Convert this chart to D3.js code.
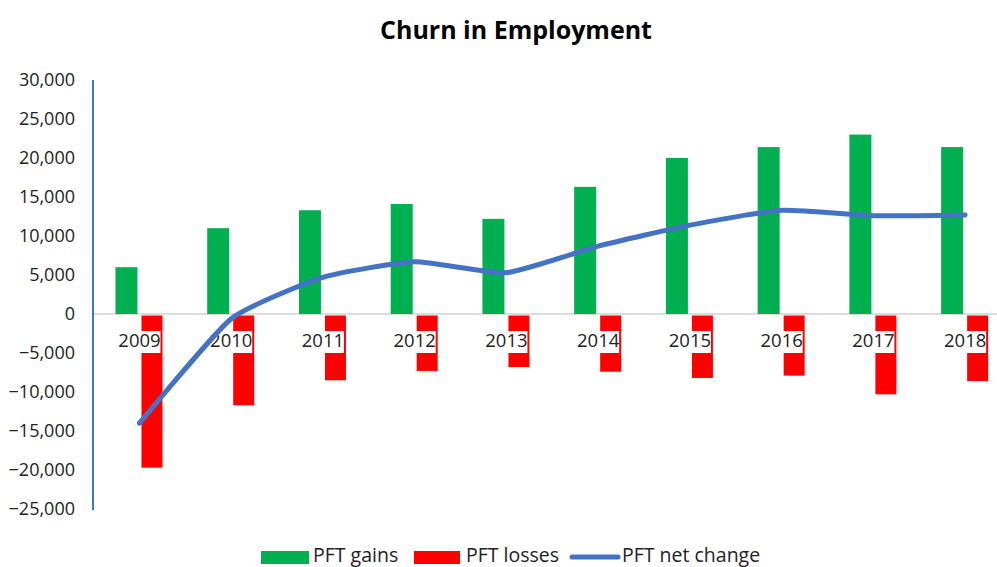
<!DOCTYPE html>
<html>
<head>
<meta charset="utf-8">
<script src="https://cdn.jsdelivr.net/npm/d3@7"></script>
<style>
  body { margin: 0; background: #fff; }
  text { font-family: "Open Sans", "Liberation Sans", sans-serif; }
</style>
</head>
<body>
<script>
// chart data
var years = ['2009','2010','2011','2012','2013','2014','2015','2016','2017','2018'];
var gains = [6000, 11000, 13300, 14100, 12200, 16300, 20000, 21400, 23000, 21400];
var losses = [-19700, -11700, -8500, -7300, -6800, -7400, -8200, -7900, -10300, -8600];
var netChange = [-14000, -600, 4700, 6700, 5300, 8700, 11400, 13300, 12600, 12700];
var yTicks = [30000, 25000, 20000, 15000, 10000, 5000, 0, -5000, -10000, -15000, -20000, -25000];

var width = 997;
var height = 567;

var svg = d3.select('body')
    .append('svg')
        .attr('width', width)
        .attr('height', height);

var xScale = d3.scaleBand()
    .domain(years)
    .range([93.6, 1011]);

var yScale = d3.scaleLinear()
    .domain([-25000, 30000])
    .range([509, 80]);

var barW = 22;
var gap = 2;

// title
svg.append('text')
    .attr('x', 516)
    .attr('y', 39)
    .attr('text-anchor', 'middle')
    .attr('font-size', 25)
    .attr('font-weight', 'bold')
    .attr('fill', '#000')
    .text('Churn in Employment');

// y axis labels
var yAxis = d3.axisLeft(yScale)
    .tickValues(yTicks)
    .tickSize(0)
    .tickPadding(18)
    .tickFormat(d3.format(','));

var yg = svg.append('g')
    .attr('class', 'y axis')
    .attr('transform', 'translate(93,0)')
    .call(yAxis);
yg.select('.domain').remove();
yg.selectAll('text')
    .attr('font-size', 18)
    .attr('fill', '#222')
    .style('font-family', '"Open Sans", "Liberation Sans", sans-serif');

// zero line
svg.append('line')
    .attr('x1', 93)
    .attr('x2', 1000)
    .attr('y1', yScale(0))
    .attr('y2', yScale(0))
    .attr('stroke', '#d0d0d0')
    .attr('stroke-width', 1.5);

// gain bars
svg.selectAll('.gain')
    .data(years)
    .enter().append('rect')
        .attr('class', 'gain')
        .attr('x', (d) => xScale(d) + xScale.bandwidth() / 2 - gap - barW)
        .attr('y', (d, i) => yScale(gains[i]))
        .attr('width', barW)
        .attr('height', (d, i) => yScale(0) - yScale(gains[i]))
        .attr('fill', '#00B050');

// loss bars
svg.selectAll('.loss')
    .data(years)
    .enter().append('rect')
        .attr('class', 'loss')
        .attr('x', (d) => xScale(d) + xScale.bandwidth() / 2 + gap)
        .attr('y', yScale(0) + 1.5)
        .attr('width', barW - 1)
        .attr('height', (d, i) => yScale(losses[i]) - yScale(0) - 1.5)
        .attr('fill', '#FF0000');

// category labels with white boxes
var labels = svg.selectAll('.xlab')
    .data(years)
    .enter().append('g')
        .attr('class', 'xlab')
        .attr('transform', (d) => 'translate(' + (xScale(d) + xScale.bandwidth() / 2) + ',341)');

labels.append('rect')
    .attr('x', -21)
    .attr('y', -10)
    .attr('width', 42)
    .attr('height', 22)
    .attr('fill', '#fff');

labels.append('text')
    .attr('text-anchor', 'middle')
    .attr('dy', '0.35em')
    .attr('font-size', 18.5)
    .attr('fill', '#222')
    .text((d) => d);

// y axis line
svg.append('line')
    .attr('x1', 93)
    .attr('x2', 93)
    .attr('y1', 80)
    .attr('y2', 510)
    .attr('stroke', '#4472C4')
    .attr('stroke-width', 2);

// net change line
var lineNet = d3.line()
    .x((d, i) => xScale(years[i]) + xScale.bandwidth() / 2)
    .y((d) => yScale(d))
    .curve(d3.curveCardinal.tension(0.5));

svg.append('path')
    .datum(netChange)
    .attr('fill', 'none')
    .attr('stroke', '#4472C4')
    .attr('stroke-width', 5)
    .attr('stroke-linecap', 'round')
    .attr('d', lineNet);

// legend
var legend = svg.append('g').attr('class', 'legend');

legend.append('rect')
    .attr('x', 261).attr('y', 551)
    .attr('width', 48).attr('height', 13)
    .attr('fill', '#00B050');
legend.append('text')
    .attr('x', 313).attr('y', 562)
    .attr('font-size', 19.5).attr('fill', '#222')
    .text('PFT gains');

legend.append('rect')
    .attr('x', 414).attr('y', 551)
    .attr('width', 46).attr('height', 13)
    .attr('fill', '#FF0000');
legend.append('text')
    .attr('x', 466).attr('y', 562)
    .attr('font-size', 19.5).attr('fill', '#222')
    .text('PFT losses');

legend.append('line')
    .attr('x1', 572).attr('x2', 618)
    .attr('y1', 557).attr('y2', 557)
    .attr('stroke', '#4472C4')
    .attr('stroke-width', 5)
    .attr('stroke-linecap', 'round');
legend.append('text')
    .attr('x', 622).attr('y', 562)
    .attr('font-size', 19.5).attr('fill', '#222')
    .text('PFT net change');
</script>
</body>
</html>
